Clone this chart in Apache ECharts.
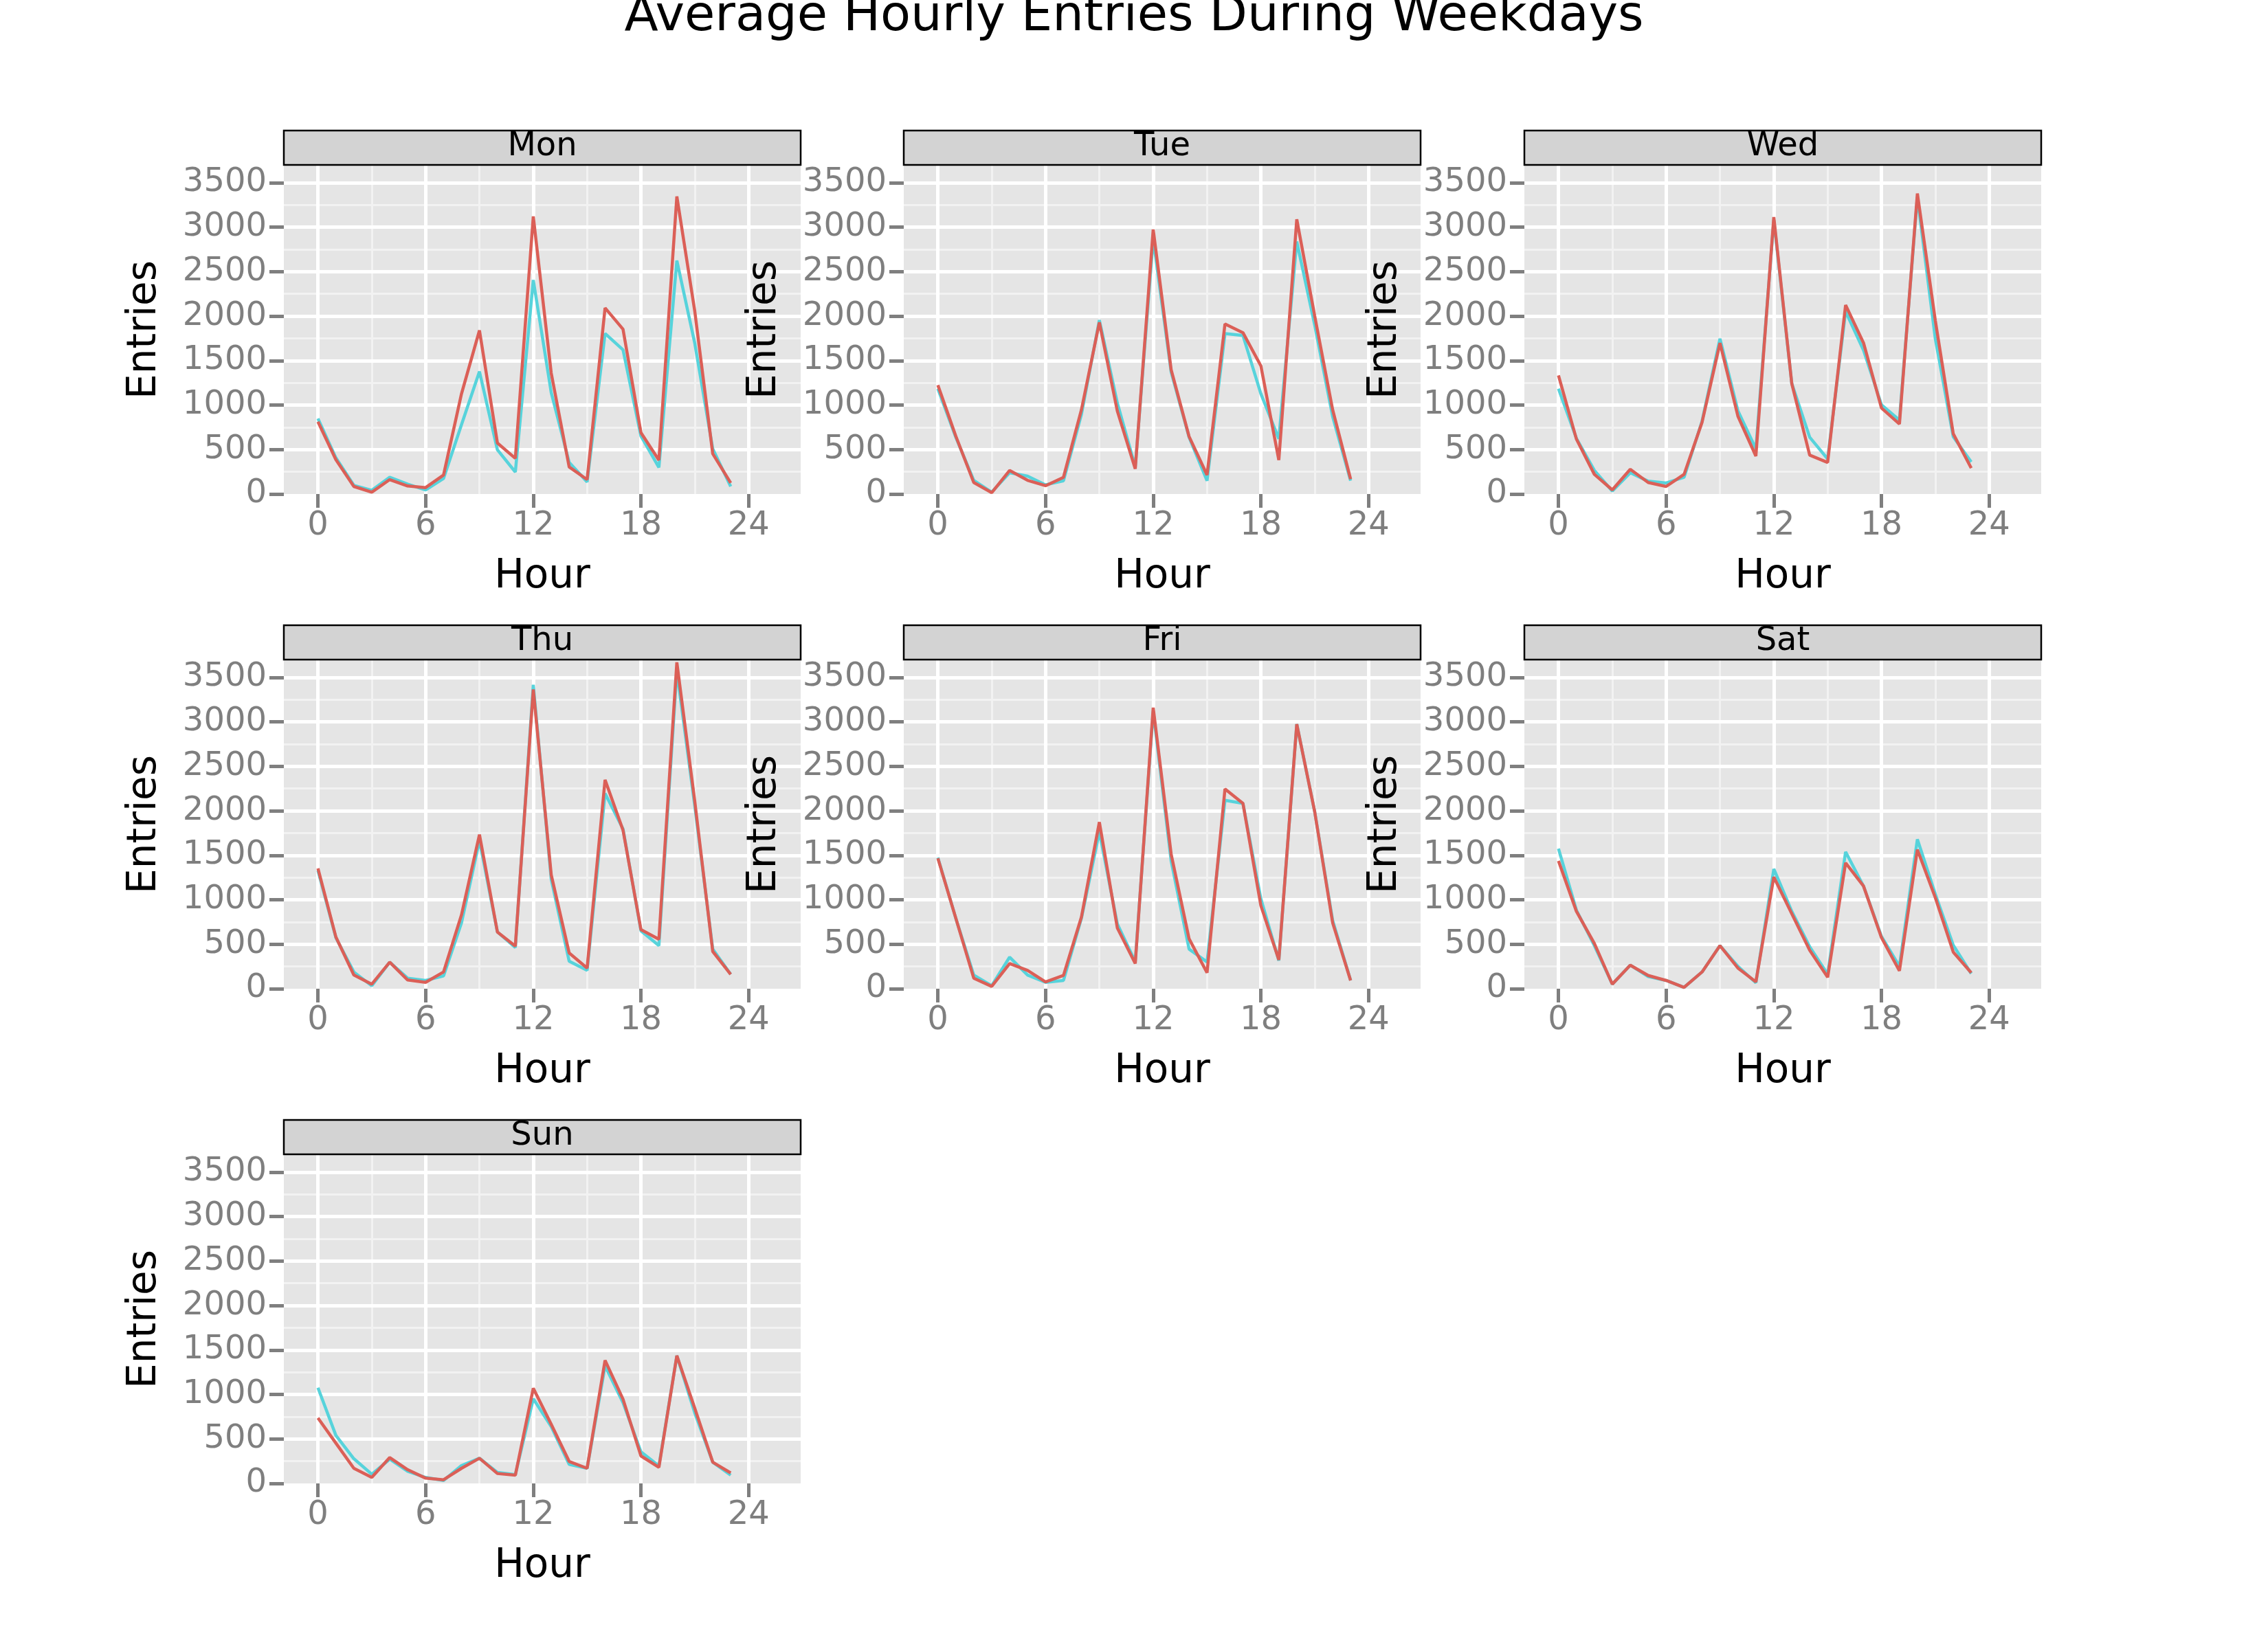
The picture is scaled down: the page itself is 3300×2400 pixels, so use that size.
<!DOCTYPE html>
<html>
<head>
<meta charset="utf-8">
<script src="https://cdn.jsdelivr.net/npm/echarts@6/dist/echarts.min.js"></script>
<style>
html,body{margin:0;padding:0;background:#fff;}
#chart{width:3300px;height:2400px;}
</style>
</head>
<body>
<div id="chart"></div>
<script>
var hours = [0,1,2,3,4,5,6,7,8,9,10,11,12,13,14,15,16,17,18,19,20,21,22,23];
var days = ['Mon','Tue','Wed','Thu','Fri','Sat','Sun'];
var xTicks = [0,6,12,18,24];
var yTicks = [0,500,1000,1500,2000,2500,3000,3500];

// cyan group (drawn first)
var monCyan = [849,407,98,41,188,111,46,175,780,1377,497,247,2406,1140,355,136,1804,1621,651,298,2624,1693,509,85];
var tueCyan = [1184,638,154,21,239,201,103,149,895,1955,1024,304,2870,1371,638,149,1804,1783,1127,620,2838,1899,870,149];
var wedCyan = [1184,625,265,33,239,144,124,188,818,1745,934,509,3082,1243,638,394,2053,1616,1003,831,3340,1745,643,360];
var thuCyan = [1330,574,188,33,298,118,93,144,741,1667,638,463,3417,1230,309,206,2195,1796,651,484,3571,2053,445,162];
var friCyan = [1474,792,154,33,355,154,72,93,792,1765,728,304,3121,1436,445,300,2118,2084,1011,316,2974,1989,767,93];
var satCyan = [1575,883,484,51,265,136,93,15,188,484,252,67,1346,870,471,162,1539,1153,587,252,1680,1063,489,170];
var sunCyan = [1076,540,278,103,273,136,67,33,201,283,124,98,952,638,214,170,1320,908,355,196,1436,792,239,93];

// red group (drawn on top)
var monRed = [813,386,85,21,162,90,72,214,1127,1840,574,401,3121,1359,304,162,2092,1853,690,381,3345,2053,453,124];
var tueRed = [1225,651,129,15,265,154,93,188,947,1930,934,283,2974,1397,646,214,1912,1814,1441,381,3088,2002,947,167];
var wedRed = [1333,618,221,46,278,129,85,221,805,1698,875,427,3113,1243,437,355,2125,1698,967,787,3378,1950,677,291];
var thuRed = [1353,581,154,51,298,98,72,188,831,1732,638,479,3365,1281,401,232,2349,1783,664,556,3669,2105,419,162];
var friRed = [1467,792,118,26,283,206,77,149,805,1873,684,283,3160,1513,561,180,2246,2084,934,324,2974,1989,741,93];
var satRed = [1436,870,509,51,265,149,93,15,188,484,232,77,1256,844,432,129,1415,1153,574,201,1564,1024,412,180];
var sunRed = [736,453,170,67,291,154,59,41,170,283,111,93,1070,664,247,170,1384,947,309,180,1436,844,239,118];

var cyanData = [monCyan,tueCyan,wedCyan,thuCyan,friCyan,satCyan,sunCyan];
var redData = [monRed,tueRed,wedRed,thuRed,friRed,satRed,sunRed];

var CYAN = '#57D3DB', RED = '#DB5F57';
var colLeft = [413, 1315, 2218];
var rowTop = [240, 960, 1680];
var PW = 752, PH = 479;
var FONT = 'DejaVu Sans';

function pairs(vals){ return hours.map(function(h,i){ return [h, vals[i]]; }); }
function plain(v){ return String(v); }

var grids = [], xAxes = [], yAxes = [], series = [], graphics = [];

graphics.push({type:'text', x:1650, y:25, z:200, style:{text:'Average Hourly Entries During Weekdays', font:'72px "DejaVu Sans"', fill:'#000', textAlign:'center', textVerticalAlign:'middle'}});

days.forEach(function(d, i){
  var r = Math.floor(i/3), c = i%3;
  var L = colLeft[c], T = rowTop[r];
  grids.push({left:L, top:T, width:PW, height:PH, show:true, backgroundColor:'#E5E5E5', borderWidth:0, containLabel:false, outerBoundsMode:'none'});
  xAxes.push({type:'value', gridIndex:i, min:-1.9, max:26.9, position:'bottom',
    axisLine:{show:true, onZero:false, lineStyle:{color:'rgba(0,0,0,0)', width:0}}, splitLine:{show:false},
    axisTick:{show:true, length:20, inside:false, customValues:xTicks, lineStyle:{color:'#7F7F7F', width:5}},
    axisLabel:{show:true, margin:23, customValues:xTicks, formatter:plain, color:'#7F7F7F', fontSize:48, fontFamily:FONT}});
  yAxes.push({type:'value', gridIndex:i, min:0, max:3700, position:'left',
    axisLine:{show:true, onZero:false, lineStyle:{color:'rgba(0,0,0,0)', width:0}}, splitLine:{show:false},
    axisTick:{show:true, length:21, inside:false, customValues:yTicks, lineStyle:{color:'#7F7F7F', width:5}},
    axisLabel:{show:true, margin:25, customValues:yTicks, formatter:plain, color:'#7F7F7F', fontSize:48, fontFamily:FONT}});
  var ml = [];
  [3,9,15,21].forEach(function(v){ ml.push({xAxis:v, lineStyle:{color:'#F2F2F2', width:3, type:'solid'}}); });
  [250,750,1250,1750,2250,2750,3250].forEach(function(v){ ml.push({yAxis:v, lineStyle:{color:'#F2F2F2', width:3, type:'solid'}}); });
  xTicks.forEach(function(v){ ml.push({xAxis:v, lineStyle:{color:'#FFFFFF', width:5, type:'solid'}}); });
  yTicks.slice(1).forEach(function(v){ ml.push({yAxis:v, lineStyle:{color:'#FFFFFF', width:5, type:'solid'}}); });
  series.push({type:'line', xAxisIndex:i, yAxisIndex:i, data:[], z:1, silent:true,
    markLine:{silent:true, symbol:['none','none'], label:{show:false}, animation:false, emphasis:{disabled:true}, data:ml}});
  series.push({type:'line', xAxisIndex:i, yAxisIndex:i, data:pairs(cyanData[i]), showSymbol:false, z:20,
    lineStyle:{color:CYAN, width:4.5}, itemStyle:{color:CYAN}});
  series.push({type:'line', xAxisIndex:i, yAxisIndex:i, data:pairs(redData[i]), showSymbol:false, z:21,
    lineStyle:{color:RED, width:4.5}, itemStyle:{color:RED}});
  graphics.push({type:'rect', shape:{x:L, y:T-50, width:PW, height:50}, style:{fill:'#D3D3D3', stroke:'#000', lineWidth:2.5}, z:100});
  graphics.push({type:'text', x:L+PW/2, y:T-26.5, style:{text:d, font:'48px "DejaVu Sans"', fill:'#000', textAlign:'center', textVerticalAlign:'middle'}, z:101});
  graphics.push({type:'text', x:L+PW/2, y:T+600, z:100, style:{text:'Hour', font:'58px "DejaVu Sans"', fill:'#000', textAlign:'center', textVerticalAlign:'middle'}});
  graphics.push({type:'text', x:L-202, y:T+240, rotation:Math.PI/2, z:100, style:{text:'Entries', font:'58px "DejaVu Sans"', fill:'#000', textAlign:'center', textVerticalAlign:'middle'}});
});

var chart = echarts.init(document.getElementById('chart'), null, {renderer:'canvas', width:3300, height:2400});
chart.setOption({
  backgroundColor:'#FFFFFF',
  animation:false,
  grid:grids, xAxis:xAxes, yAxis:yAxes, series:series,
  graphic:{elements:graphics}
});
</script>
</body>
</html>
